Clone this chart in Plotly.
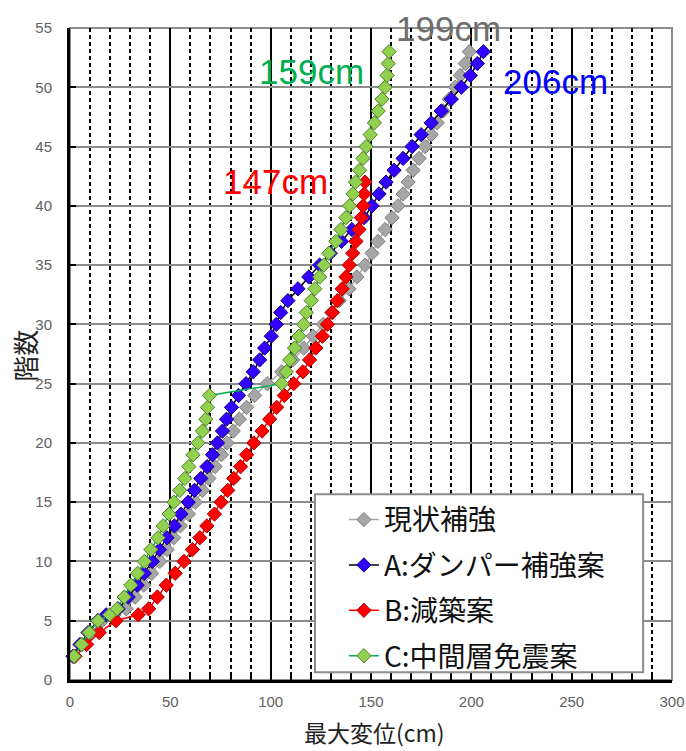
import plotly.graph_objects as go

# Storey levels (5.5 is the mezzanine level)
floors = [2, 3, 4, 5, 5.5] + list(range(6, 54))
floors_b = [2, 3, 4, 5, 5.5] + list(range(6, 43))

# Maximum storey displacement (cm) per case
disp_current = [2, 6, 10.5, 16, 22, 28, 32.5, 36.8, 40.7, 44.8, 48.4, 51.7, 55, 59, 62.5,
                66, 69.2, 72.3, 75.5, 78.3, 81.4, 84.4, 88, 92, 98.3, 105.5, 111, 116.5,
                121.2, 126.2, 130.3, 134.2, 139, 143, 147, 150.5, 153.5, 157, 160.5, 163.5,
                166, 168.5, 171, 174, 177, 180, 183, 186, 189, 192, 194.5, 197, 199]
disp_a = [1.5, 5, 9, 13.8, 18, 24, 29, 33.5, 37, 41, 44.6, 48.3, 52, 55.3, 58.9,
          62, 65.2, 68.3, 71, 73.5, 76, 78, 80.5, 84, 87.7, 91.3, 94.5, 97,
          100.3, 102.8, 105, 108.6, 113.6, 119, 124.4, 129.7, 135.3, 140.5, 146.5, 150.5,
          154, 157.5, 161.5, 166, 170.5, 175, 180, 185, 190, 195, 199.5, 203, 206]
disp_b = [2.5, 8.3, 14.6, 22.9, 34, 39.2, 43.5, 48, 52.4, 56.8, 61, 64.7, 68.2, 72, 75.3,
          78.6, 81.6, 85, 88, 91.6, 95.7, 99.5, 103, 106.8, 111.5, 116.1, 119.4, 122.5,
          125.8, 128.3, 130.8, 133.2, 135.6, 137.5, 139.2, 140.9, 142.5, 144, 145.2, 146.1,
          146.6, 147]
disp_c = [2, 5.8, 9.5, 14, 19.8, 23.5, 27, 30.3, 33.7, 37, 40.3, 43.9, 46.4, 49.4, 51.8,
          54.7, 57.2, 59.2, 61.3, 63.8, 66, 67.7, 68.5, 69.5, 105.5, 107.8, 109.5, 111.9,
          114.1, 116.4, 117.8, 120.2, 122, 124.4, 126.5, 129, 132.5, 135, 137.5, 139.3,
          141, 142.3, 144.3, 146, 147.6, 149.6, 151.7, 153.6, 155.5, 157, 158, 158.6, 159]

names = ["現状補強", "A:ダンパー補強案", "B:減築案", "C:中間層免震案"]
line_colors = ["#a6a6a6", "#000000", "#ff0000", "#00b050"]
marker_fills = ["#a6a6a6", "#3300ff", "#ff0000", "#92d050"]
marker_edges = ["#7f7f7f", "#1a0080", "#b00000", "#4f7f2a"]

# peak-displacement callouts, placed in paper coordinates
peak_labels = ["199cm", "206cm", "147cm", "159cm"]
peak_colors = ["#6e6e6e", "#0000ff", "#ff0000", "#00b050"]
peak_pos = [(0.628, 1.0), (0.806, 0.918), (0.342, 0.765), (0.401, 0.934)]

series = [(disp_current, floors), (disp_a, floors), (disp_b, floors_b), (disp_c, floors)]

fig = go.Figure()
for i, (xs, ys) in enumerate(series):
    fig.add_trace(go.Scatter(
        x=xs, y=ys, mode="lines+markers", name=names[i], legendgroup=str(i),
        line=dict(color=line_colors[i], width=1.5),
        marker=dict(symbol="diamond", size=11, color=marker_fills[i],
                    line=dict(color=marker_edges[i], width=1)),
        cliponaxis=False,
    ))

for txt, col, (px, py) in zip(peak_labels, peak_colors, peak_pos):
    fig.add_annotation(x=px, y=py, xref="paper", yref="paper", text=txt, showarrow=False,
                       xanchor="center", yanchor="middle",
                       font=dict(family="Liberation Sans, Arial", size=35, color=col))

cjk = "Noto Sans CJK JP"
# axis titles
fig.add_annotation(x=0.506, y=-0.0795, xref="paper", yref="paper", text="最大変位(cm)",
                   showarrow=False, yanchor="middle", borderpad=0,
                   font=dict(family=cjk, size=23, color="#222222"))
fig.add_annotation(x=-0.075, y=0.497, xref="paper", yref="paper", text="階数",
                   textangle=-90, showarrow=False, xanchor="center",
                   font=dict(family=cjk, size=26, color="#222222"))

# plot frame (top/right grey border) and legend panel
fig.add_shape(type="rect", xref="paper", yref="paper", x0=0, x1=1, y0=0, y1=1,
              line=dict(color="#8c8c8c", width=2), layer="below")
fig.add_shape(type="rect", xref="paper", yref="paper", x0=0.407, x1=0.952,
              y0=0.012, y1=0.285, line=dict(color="#8c8c8c", width=2),
              fillcolor="white", layer="above")

tick_font = dict(family="Liberation Sans, Arial", size=15, color="#606060")
fig.update_xaxes(
    range=[0, 300], dtick=50, showgrid=True, gridcolor="#000000", gridwidth=1.5,
    zeroline=False, showline=True, linecolor="#000000", linewidth=3,
    ticks="inside", ticklen=6, tickwidth=2, tickcolor="#000000",
    tickfont=tick_font, ticklabelstandoff=6,
    minor=dict(dtick=10, showgrid=True, gridcolor="#000000", gridwidth=2,
               griddash="4px,3px", ticks="inside", ticklen=5, tickwidth=1.5,
               tickcolor="#000000"),
)
fig.update_yaxes(
    range=[0, 55], dtick=5, showgrid=True, gridcolor="#8c8c8c", gridwidth=2,
    zeroline=False, showline=True, linecolor="#000000", linewidth=3,
    ticks="inside", ticklen=6, tickwidth=2, tickcolor="#000000",
    tickfont=tick_font, ticklabelstandoff=12,
)

fig.update_layout(
    width=686, height=751,
    margin=dict(l=70, r=14, t=28, b=71, autoexpand=False),
    paper_bgcolor="white", plot_bgcolor="white",
    showlegend=True,
    legend=dict(x=0.455, y=0.284, xanchor="left", yanchor="top",
                bgcolor="rgba(0,0,0,0)", borderwidth=0, tracegroupgap=6,
                font=dict(family=cjk, size=28, color="#111111"),
                itemwidth=30),
)

fig.write_html("out.html")
